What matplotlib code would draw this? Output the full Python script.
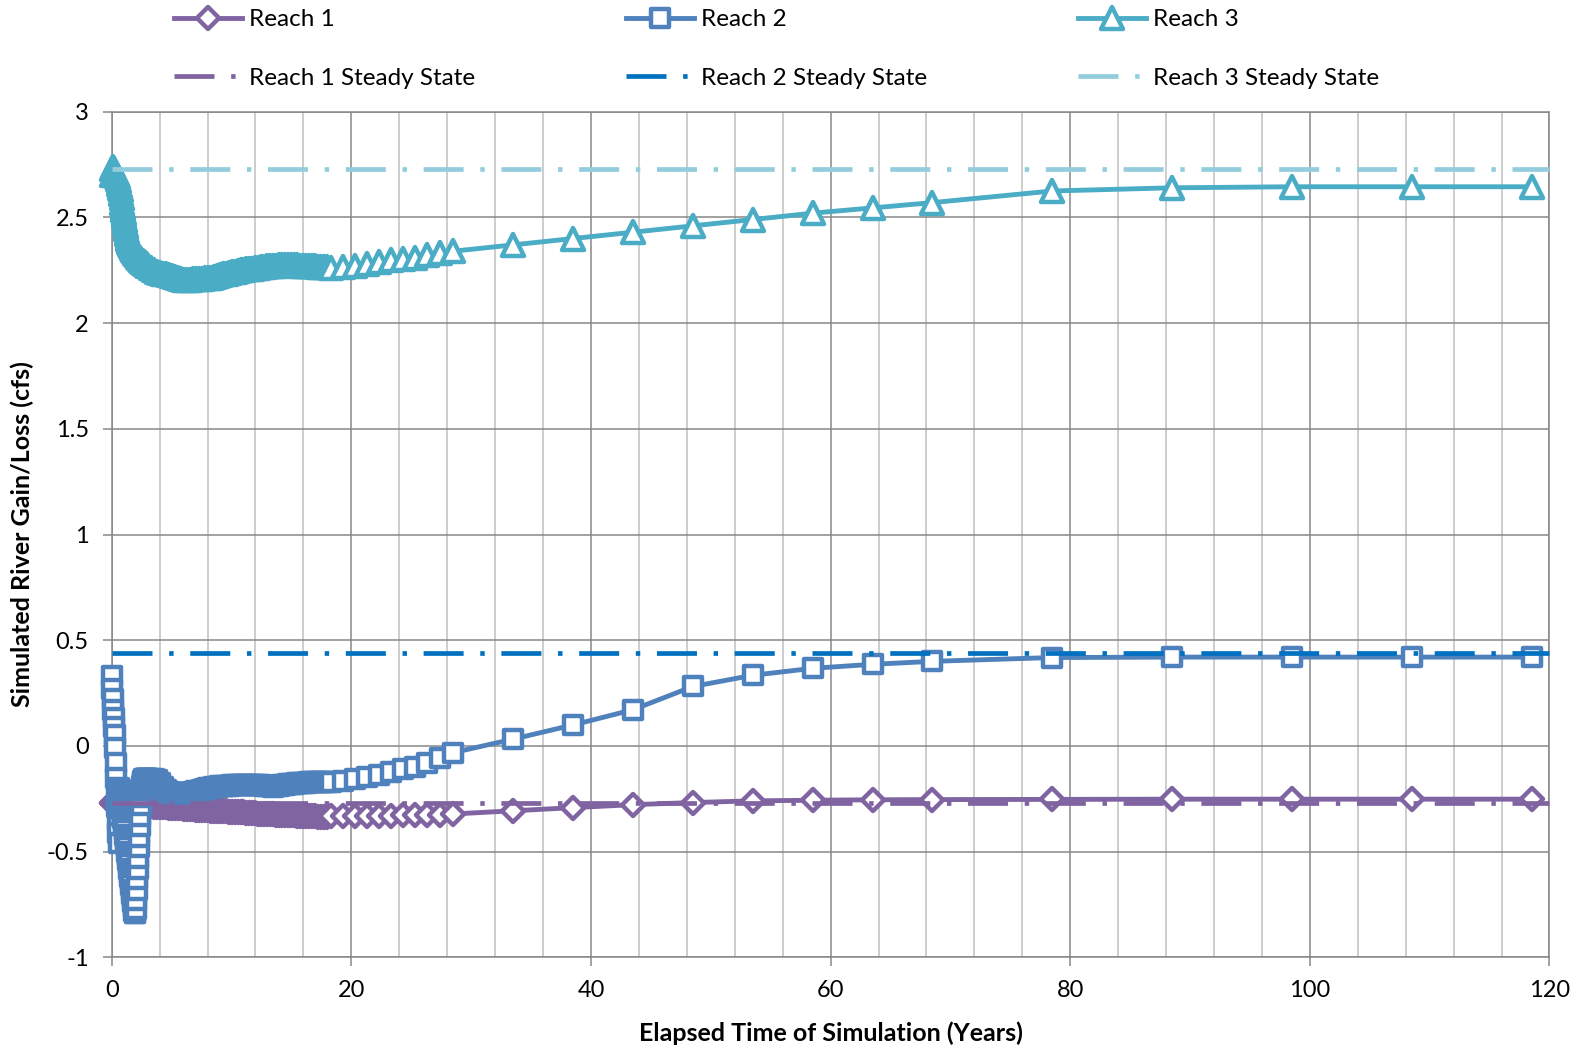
import numpy as np
import matplotlib
matplotlib.use("Agg")
import matplotlib.pyplot as plt
from matplotlib.markers import MarkerStyle

plt.rcParams['font.family'] = ['Lato', 'DejaVu Sans']
plt.rcParams['lines.scale_dashes'] = False

# ---------------- data ----------------
# time (years): half-monthly output for first 3 years, quarterly to year 18, then sparser
t_early = np.arange(0, 73) / 24.0
t_quarterly = np.arange(13, 73) * 0.25
t_yearly = [18.3, 19.3, 20.3, 21.3, 22.3, 23.3, 24.3, 25.3, 26.3, 27.4, 28.5]
t_coarse = [33.5, 38.5, 43.5, 48.5, 53.5, 58.5, 63.5, 68.5, 78.5, 88.5, 98.5, 108.5, 118.5]

reach1_early = [-0.268, -0.269, -0.270, -0.270, -0.271, -0.271, -0.272, -0.272, -0.272, -0.273, -0.273, -0.273,
                -0.274, -0.274, -0.274, -0.275, -0.275, -0.275, -0.276, -0.276, -0.276, -0.276, -0.277, -0.277,
                -0.277, -0.277, -0.278, -0.278, -0.278, -0.278, -0.279, -0.279, -0.279, -0.279, -0.280, -0.280,
                -0.280, -0.280, -0.280, -0.281, -0.281, -0.281, -0.281, -0.281, -0.282, -0.282, -0.282, -0.282,
                -0.282, -0.283, -0.283, -0.283, -0.283, -0.283, -0.283, -0.284, -0.284, -0.284, -0.284, -0.284,
                -0.284, -0.284, -0.285, -0.285, -0.285, -0.285, -0.285, -0.285, -0.285, -0.285, -0.285, -0.285,
                -0.285]
reach1_quarterly = [-0.286, -0.287, -0.288, -0.289, -0.290, -0.291, -0.292, -0.293,
                    -0.294, -0.295, -0.296, -0.297, -0.298, -0.299, -0.300, -0.301,
                    -0.302, -0.303, -0.304, -0.305, -0.306, -0.307, -0.307, -0.308,
                    -0.309, -0.310, -0.311, -0.312, -0.313, -0.314, -0.315, -0.315,
                    -0.316, -0.317, -0.318, -0.319, -0.320, -0.321, -0.321, -0.322,
                    -0.323, -0.324, -0.325, -0.325, -0.326, -0.327, -0.328, -0.328,
                    -0.329, -0.330, -0.330, -0.331, -0.332, -0.332, -0.333, -0.333,
                    -0.334, -0.334, -0.335, -0.335]
reach1_yearly = [-0.333, -0.333, -0.332, -0.332, -0.331, -0.330, -0.329, -0.328, -0.327, -0.325, -0.322]
reach1_coarse = [-0.307, -0.292, -0.278, -0.268, -0.260, -0.257, -0.255, -0.254, -0.253, -0.252,
                 -0.252, -0.252, -0.252]

reach2_early = [0.33, 0.27, 0.22, 0.17, 0.13, 0.09, 0.05, -0.01, -0.08, -0.15, -0.22, -0.29,
                -0.35, -0.41, -0.46,
                -0.20, -0.21, -0.225, -0.24, -0.26, -0.28, -0.30, -0.32, -0.34, -0.36,
                -0.38, -0.40, -0.42, -0.44, -0.46, -0.48, -0.50, -0.52, -0.54, -0.56,
                -0.58, -0.60, -0.62, -0.64, -0.66, -0.68, -0.70, -0.72, -0.74, -0.76,
                -0.78, -0.79,
                -0.79, -0.77, -0.73, -0.68, -0.63, -0.58, -0.53, -0.48, -0.43, -0.38,
                -0.33, -0.28, -0.24, -0.21, -0.19, -0.175, -0.165,
                -0.16, -0.158, -0.157, -0.156, -0.156, -0.156, -0.156, -0.157, -0.157]
reach2_quarterly = [-0.158, -0.158, -0.162, -0.175, -0.195, -0.210, -0.218, -0.222,
                    -0.223, -0.224, -0.224, -0.224, -0.223, -0.222, -0.219, -0.215,
                    -0.211, -0.207, -0.203, -0.200, -0.197, -0.195, -0.193, -0.191,
                    -0.190, -0.189, -0.188, -0.187, -0.186, -0.186, -0.185, -0.185,
                    -0.184, -0.184, -0.184, -0.184, -0.185, -0.186, -0.188, -0.190,
                    -0.192, -0.193, -0.192, -0.190, -0.187, -0.184, -0.182, -0.180,
                    -0.178, -0.177, -0.176, -0.175, -0.174, -0.173, -0.172, -0.171,
                    -0.170, -0.170, -0.169, -0.169]
reach2_yearly = [-0.169, -0.165, -0.158, -0.149, -0.138, -0.125, -0.111, -0.098, -0.082, -0.059, -0.032]
reach2_coarse = [0.032, 0.099, 0.171, 0.281, 0.334, 0.367, 0.386, 0.400, 0.418, 0.420, 0.420, 0.420, 0.420]

reach3_early = [2.70, 2.73, 2.74, 2.735, 2.73, 2.725, 2.72, 2.715, 2.71, 2.705, 2.70, 2.695,
                2.69, 2.68, 2.67, 2.66, 2.65, 2.64, 2.63, 2.61, 2.59, 2.57, 2.55, 2.535,
                2.52, 2.505, 2.49, 2.475, 2.46, 2.445, 2.43, 2.42, 2.41, 2.40, 2.39, 2.385,
                2.38, 2.375, 2.37, 2.365, 2.36, 2.355, 2.35, 2.346, 2.343, 2.34, 2.336, 2.333,
                2.33, 2.327, 2.324, 2.321, 2.318, 2.315, 2.312, 2.309, 2.306, 2.303, 2.30, 2.298,
                2.296, 2.294, 2.292, 2.29, 2.288, 2.286, 2.284, 2.282, 2.28, 2.278, 2.276, 2.274,
                2.272]
reach3_quarterly = [2.262, 2.252, 2.244, 2.238, 2.234, 2.230, 2.227, 2.224,
                    2.218, 2.212, 2.207, 2.205, 2.205, 2.206, 2.207, 2.208,
                    2.209, 2.210, 2.212, 2.213, 2.215, 2.218, 2.222, 2.226,
                    2.230, 2.234, 2.237, 2.240, 2.243, 2.246, 2.249, 2.252,
                    2.254, 2.256, 2.258, 2.260, 2.262, 2.264, 2.266, 2.268,
                    2.270, 2.271, 2.272, 2.273, 2.274, 2.275, 2.275, 2.275,
                    2.274, 2.273, 2.272, 2.271, 2.270, 2.270, 2.269, 2.268,
                    2.267, 2.266, 2.265, 2.264]
reach3_yearly = [2.26, 2.265, 2.27, 2.28, 2.29, 2.30, 2.305, 2.31, 2.32, 2.33, 2.34]
reach3_coarse = [2.37, 2.40, 2.43, 2.46, 2.49, 2.52, 2.545, 2.57, 2.625, 2.64, 2.645, 2.645, 2.645]

steady_x = [0, 120]
reach1_steady = -0.268
reach2_steady = 0.44
reach3_steady = 2.73

series_labels = ["Reach 1", "Reach 2", "Reach 3"]
steady_labels = ["Reach 1 Steady State", "Reach 2 Steady State", "Reach 3 Steady State"]
x_ticks = [0, 20, 40, 60, 80, 100, 120]
y_ticks = [-1, -0.5, 0, 0.5, 1, 1.5, 2, 2.5, 3]
y_tick_labels = ["-1", "-0.5", "0", "0.5", "1", "1.5", "2", "2.5", "3"]
x_label = "Elapsed Time of Simulation (Years)"
y_label = "Simulated River Gain/Loss (cfs)"

# ---------------- figure ----------------
W, H = 1583, 1049
fig = plt.figure(figsize=(W / 100, H / 100), dpi=100)
L, R, T, B = 111.7, 1549.5, 111.7, 957.3
ax = fig.add_axes([L / W, 1 - B / H, (R - L) / W, (B - T) / H])

t_all = np.concatenate([t_early, t_quarterly, t_yearly, t_coarse])

def series(e, q, y, c):
    return np.concatenate([e, q, y, c])

colors = ["#8064A2", "#4F81BD", "#4BACC6"]
steady_colors = ["#8064A2", "#0070C0", "#93CDDD"]
markers = [MarkerStyle("D", joinstyle="round"), MarkerStyle("s", joinstyle="round"),
           MarkerStyle("^", joinstyle="round")]
msizes = [11.2, 12.8, 16.3]
data = [series(reach1_early, reach1_quarterly, reach1_yearly, reach1_coarse),
        series(reach2_early, reach2_quarterly, reach2_yearly, reach2_coarse),
        series(reach3_early, reach3_quarterly, reach3_yearly, reach3_coarse)]
for d in data:
    assert len(d) == len(t_all)
steady_vals = [reach1_steady, reach2_steady, reach3_steady]

lines = []
for i in range(3):
    ln, = ax.plot(t_all, data[i], color=colors[i], lw=3.5, marker=markers[i], ms=msizes[i],
                  mfc="white", mec=colors[i], mew=3.2, clip_on=False, zorder=3 + i,
                  solid_joinstyle="round", label=series_labels[i])
    lines.append(ln)

ss_lines = []
for i in range(3):
    ln, = ax.plot(steady_x, [steady_vals[i]] * 2, color=steady_colors[i], lw=3.4,
                  clip_on=False, zorder=7 + i, label=steady_labels[i],
                  dash_capstyle="butt")
    ln.set_dashes((28.8, 12.0, 3.2, 12.0))
    ss_lines.append(ln)

ax.set_xlim(0, 120)
ax.set_ylim(-1, 3)
ax.set_xticks(x_ticks)
ax.set_xticks(np.arange(0, 121, 4), minor=True)
ax.set_yticks(y_ticks)
ax.set_yticklabels(y_tick_labels)
ax.set_axisbelow(True)
ax.grid(which="major", color="#878787", lw=1.1)
ax.grid(which="minor", axis="x", color="#C0C0C0", lw=1.1)
for s in ax.spines.values():
    s.set_color("#878787")
    s.set_linewidth(1.1)
ax.tick_params(which="major", length=6.5, width=1.1, color="#878787",
               labelsize=17, labelcolor="black")
ax.tick_params(axis="x", which="major", pad=10)
ax.tick_params(axis="y", which="major", pad=10)
ax.tick_params(which="minor", length=0)

ax.set_xlabel(x_label, fontsize=18, fontweight="bold")
ax.set_ylabel(y_label, fontsize=18, fontweight="bold")
ax.xaxis.set_label_coords(0.5, -(1033 - B) / (B - T))
ax.xaxis.label.set_va("center")
ax.yaxis.set_label_coords((22 - L) / (R - L), 0.5)
ax.yaxis.label.set_va("center")

col_x = [174, 626, 1078]
for i in range(3):
    fig.legend(handles=[lines[i], ss_lines[i]], labels=[series_labels[i], steady_labels[i]],
               loc="upper left", bbox_to_anchor=(col_x[i] / W, 1 - 9 / H),
               frameon=False, borderpad=0, borderaxespad=0, handlelength=2.8,
               handletextpad=0.3, labelspacing=1.55, numpoints=1, fontsize=17.5)

fig.savefig("out.png", dpi=100)
